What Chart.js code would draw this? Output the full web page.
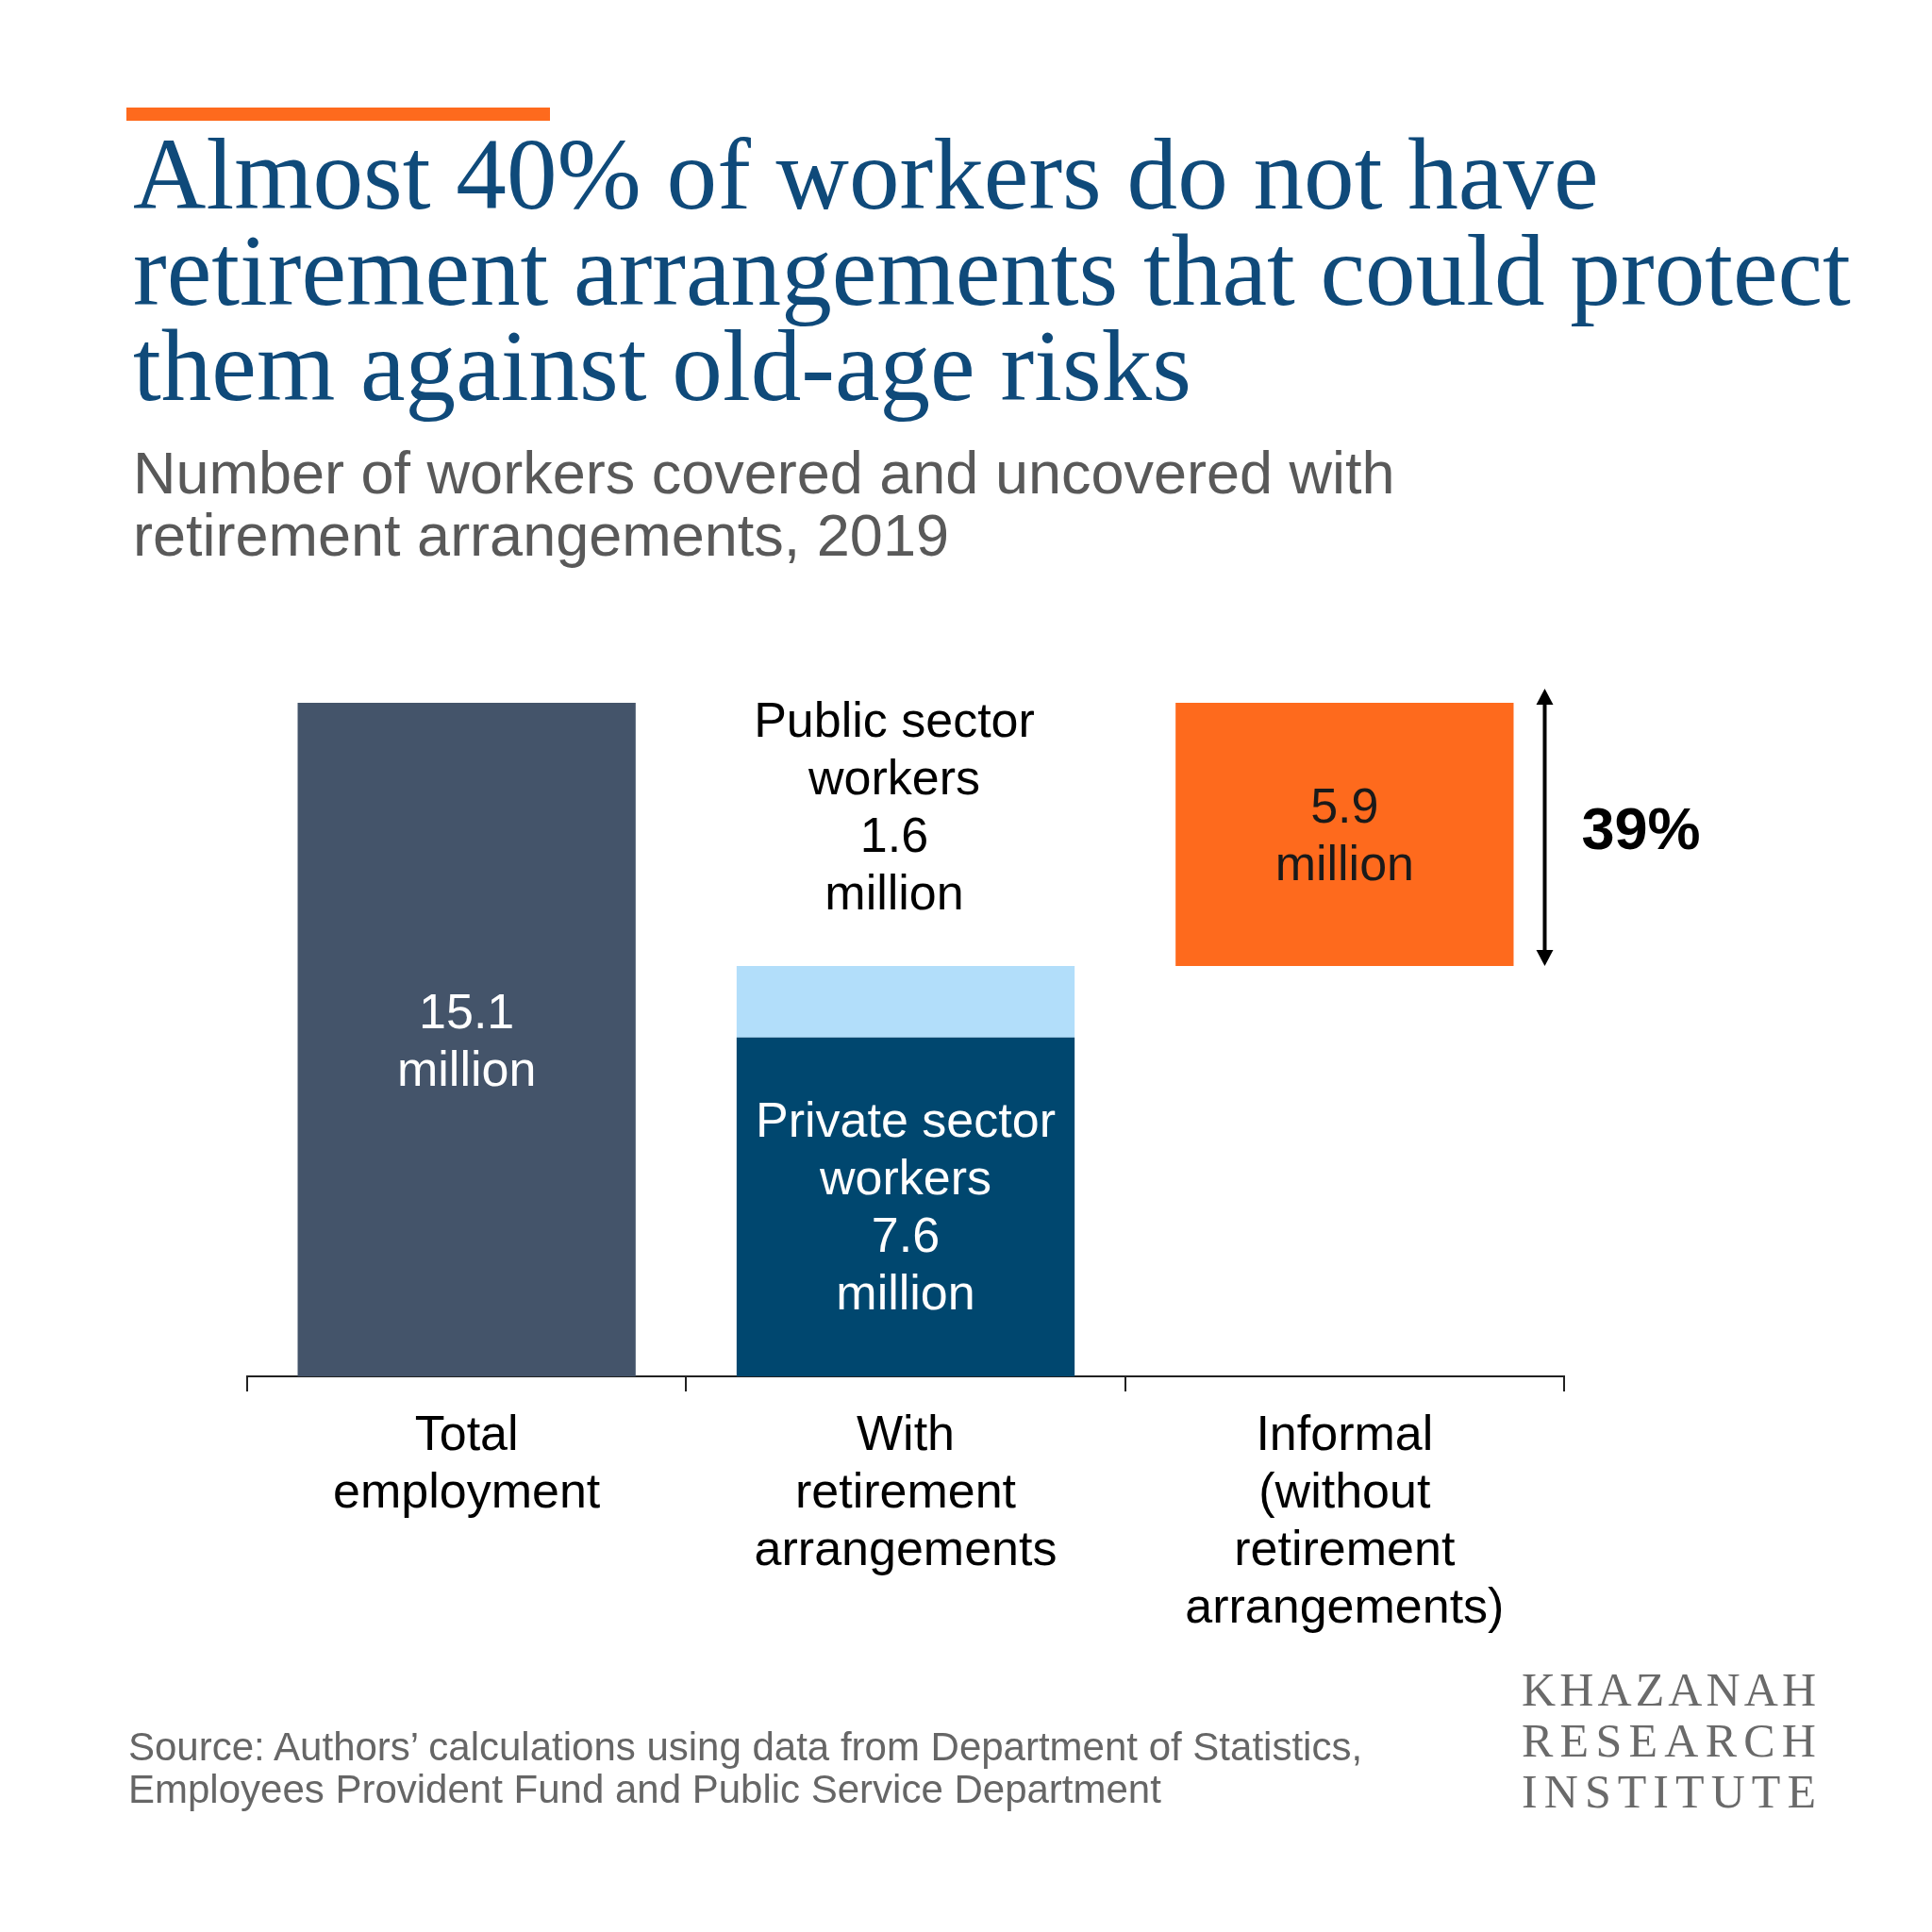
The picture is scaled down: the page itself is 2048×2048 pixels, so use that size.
<!DOCTYPE html>
<html lang="en">
<head>
<meta charset="UTF-8">
<title>Workers covered and uncovered with retirement arrangements, 2019</title>
<script src="https://cdn.jsdelivr.net/npm/chart.js@4.4.0/dist/chart.umd.min.js"></script>
<style>
  html, body { margin: 0; padding: 0; background: #fff; }
  #page { position: relative; width: 2048px; height: 2048px; overflow: hidden; }
  #chart { position: absolute; left: 0; top: 0; }
  .txt { position: absolute; white-space: nowrap; }
  .rule { position: absolute; left: 134px; top: 114px; width: 449px; height: 14px; background: #fe6a1d; }
  #title { left: 141px; font-family: "Liberation Serif", serif; color: #0f4a7a; }
  #subtitle { left: 141px; font-family: "Liberation Sans", Arial, sans-serif; font-size: 63px; line-height: 66px; color: #595959; }
  #source { left: 136px; font-family: "Liberation Sans", Arial, sans-serif; font-size: 42px; line-height: 45px; color: #666; }
  #logo { left: 1613px; font-family: "Liberation Serif", serif; font-size: 50px; line-height: 54px; color: #6a6a6a; }
</style>
</head>
<body>
<div id="page">
  <canvas id="chart" width="2048" height="2048"></canvas>
  <div class="rule"></div>
  <div id="title" class="txt">Almost 40% of workers do not have<br><span id="titleWide">retirement arrangements that could protect</span><br>them against old-age risks</div>
  <div id="subtitle" class="txt">Number of workers covered and uncovered with<br>retirement arrangements, 2019</div>
  <div id="source" class="txt">Source: Authors’ calculations using data from Department of Statistics,<br>Employees Provident Fund and Public Service Department</div>
  <div id="logo" class="txt"><span>KHAZANAH</span><br><span>RESEARCH</span><br><span>INSTITUTE</span></div>
</div>

<script>
// data (million workers, 2019)
const categories = [
  ["Total", "employment"],
  ["With", "retirement", "arrangements"],
  ["Informal", "(without", "retirement", "arrangements)"]
];
const totalValues = [15.1, null, null];
const privateValues = [null, 7.6, null];
const publicValues = [null, 1.6, null];
const informalValues = [null, null, 5.9];

const COLORS = {
  total: "#44546a",
  priv: "#00476f",
  pub: "#b2defa",
  informal: "#fe6a1d"
};
const SANS = '"Liberation Sans", Arial, sans-serif';
const LINE = 61;

// floating ranges: public sits on private, informal sits on everything covered
const covered = privateValues[1] + publicValues[1];
const totalRange = totalValues.map(v => v == null ? null : [0, v]);
const privateRange = privateValues.map(v => v == null ? null : [0, v]);
const publicRange = publicValues.map((v, i) => v == null ? null : [privateValues[i], privateValues[i] + v]);
const informalRange = informalValues.map(v => v == null ? null : [covered, covered + v]);
const informalMid = covered + informalValues[2] / 2;
const informalShare = Math.round(informalValues[2] / totalValues[0] * 100);

const labelSpecs = [
  { dataset: 0, index: 0, mid: totalValues[0] / 2, color: "#fff", dy: 4,
    lines: [totalValues[0].toFixed(1), "million"] },
  { dataset: 1, index: 1, mid: privateValues[1] / 2, color: "#fff", dy: 3,
    lines: ["Private sector", "workers", privateValues[1].toFixed(1), "million"] },
  { dataset: 2, index: 1, mid: informalMid, color: "#000", dx: -12, dy: -26,
    lines: ["Public sector", "workers", publicValues[1].toFixed(1), "million"] },
  { dataset: 3, index: 2, mid: informalMid, color: "#1a1a1a", dy: 4,
    lines: [informalValues[2].toFixed(1), "million"] }
];

const barLabels = {
  id: "barLabels",
  afterDatasetsDraw(chart) {
    const ctx = chart.ctx;
    const y = chart.scales.y;
    ctx.save();
    ctx.font = "52px " + SANS;
    ctx.textAlign = "center";
    ctx.textBaseline = "middle";
    labelSpecs.forEach(s => {
      const bar = chart.getDatasetMeta(s.dataset).data[s.index];
      const cy = y.getPixelForValue(s.mid) + (s.dy || 0);
      const x = bar.x + (s.dx || 0);
      const top = cy - (s.lines.length - 1) * LINE / 2;
      ctx.fillStyle = s.color;
      s.lines.forEach((t, i) => ctx.fillText(t, x, top + i * LINE));
    });

    // double arrow beside the informal bar
    const inf = chart.getDatasetMeta(3).data[2];
    const ax = inf.x + inf.width / 2 + 33;
    const yTop = Math.min(inf.y, inf.base) - 15;
    const yBot = Math.max(inf.y, inf.base);
    const head = 17;
    ctx.strokeStyle = "#000";
    ctx.fillStyle = "#000";
    ctx.lineWidth = 4;
    ctx.beginPath();
    ctx.moveTo(ax, yTop + head);
    ctx.lineTo(ax, yBot - head);
    ctx.stroke();
    ctx.beginPath();
    ctx.moveTo(ax, yTop);
    ctx.lineTo(ax - 9, yTop + head);
    ctx.lineTo(ax + 9, yTop + head);
    ctx.closePath();
    ctx.fill();
    ctx.beginPath();
    ctx.moveTo(ax, yBot);
    ctx.lineTo(ax - 9, yBot - head);
    ctx.lineTo(ax + 9, yBot - head);
    ctx.closePath();
    ctx.fill();

    ctx.font = "bold 63px " + SANS;
    ctx.textAlign = "left";
    ctx.fillText(informalShare + "%", ax + 39, (yTop + yBot) / 2 + 6);
    ctx.restore();
  }
};

const barOpts = { barPercentage: 0.77, categoryPercentage: 1, borderWidth: 0 };

new Chart(document.getElementById("chart"), {
  type: "bar",
  data: {
    labels: categories,
    datasets: [
      Object.assign({ label: "Total employment", data: totalRange, backgroundColor: COLORS.total }, barOpts),
      Object.assign({ label: "Private sector workers", data: privateRange, backgroundColor: COLORS.priv }, barOpts),
      Object.assign({ label: "Public sector workers", data: publicRange, backgroundColor: COLORS.pub }, barOpts),
      Object.assign({ label: "Informal", data: informalRange, backgroundColor: COLORS.informal }, barOpts)
    ]
  },
  options: {
    responsive: false,
    animation: false,
    layout: { padding: { left: 262, right: 390, top: 745, bottom: 289 } },
    plugins: { legend: { display: false }, tooltip: { enabled: false } },
    scales: {
      x: {
        stacked: true,
        afterFit: scale => { scale.height = 300; },
        border: { display: true, color: "#222", width: 2 },
        grid: { display: true, offset: true, drawOnChartArea: false, drawTicks: true, tickLength: 16, color: "#222", lineWidth: 2 },
        ticks: {
          color: "#000",
          autoSkip: false,
          maxRotation: 0,
          padding: 17,
          font: { family: SANS, size: 52, lineHeight: LINE / 52 }
        }
      },
      y: {
        stacked: false,
        display: false,
        min: 0,
        max: totalValues[0]
      }
    }
  },
  plugins: [barLabels]
});

// text blocks placed by first-line baseline
function placeByBaseline(el, baseline, size, lineH, k) {
  el.style.top = (baseline - (lineH / 2 + k * size)) + "px";
}

const title = document.getElementById("title");
let titleSize = 100;
title.style.fontSize = titleSize + "px";
const wide = document.getElementById("titleWide").getBoundingClientRect().width;
titleSize = titleSize * 1821 / wide;
title.style.fontSize = titleSize.toFixed(2) + "px";
title.style.lineHeight = "101.5px";
placeByBaseline(title, 222, titleSize, 101.5, 0.3375);

placeByBaseline(document.getElementById("subtitle"), 523, 63, 66, 0.3465);
placeByBaseline(document.getElementById("source"), 1866, 42, 45, 0.3465);

const logo = document.getElementById("logo");
placeByBaseline(logo, 1808, 50, 54, 0.3375);
logo.querySelectorAll("span").forEach(sp => {
  const w = sp.getBoundingClientRect().width;
  const n = sp.textContent.length;
  sp.style.letterSpacing = ((312 - w) / (n - 1)).toFixed(2) + "px";
});
</script>
</body>
</html>
